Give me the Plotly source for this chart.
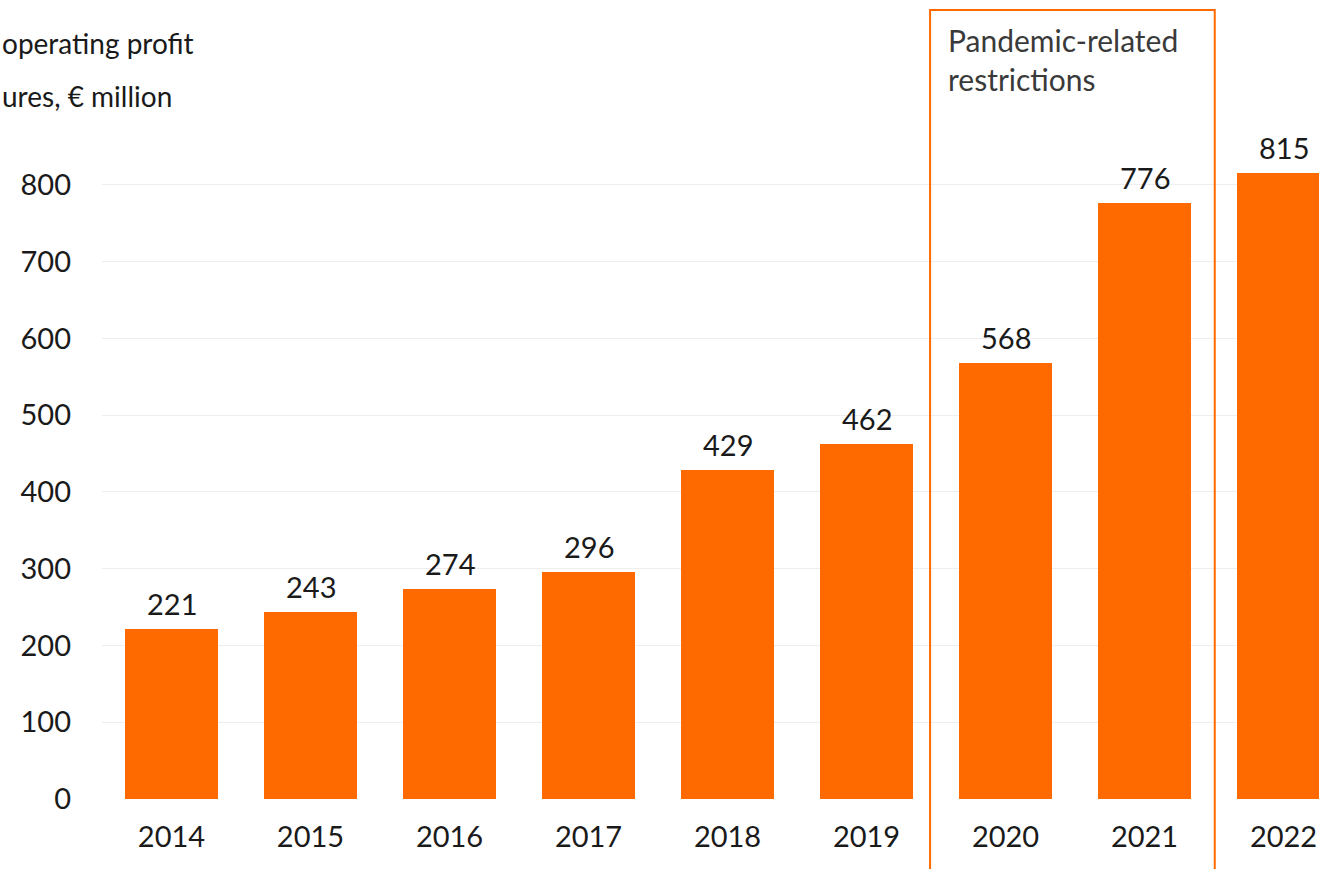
import plotly.graph_objects as go

years = ["2014", "2015", "2016", "2017", "2018", "2019", "2020", "2021", "2022"]
profit = [221, 243, 274, 296, 429, 462, 568, 776, 815]
y_ticks = [0, 100, 200, 300, 400, 500, 600, 700, 800]
title_lines = ["operating profit", "ures, € million"]
box_label = "Pandemic-related<br>restrictions"

ORANGE = "#FF6A00"
FONT = "Lato"
TEXT = "#1a1a1a"

fig = go.Figure()
fig.add_trace(go.Bar(
    x=years, y=profit, width=0.67,
    marker=dict(color=ORANGE, line=dict(width=0)),
    hoverinfo="skip",
))

# value labels above each bar (category positions by index)
for i, v in enumerate(profit):
    fig.add_annotation(
        x=i, y=v, text=str(v), showarrow=False,
        yanchor="bottom", yshift=6,
        font=dict(family=FONT, size=29, color=TEXT),
    )

# box marking the pandemic years
fig.add_shape(
    type="rect", xref="x", yref="paper",
    x0=5.457, x1=7.505, y0=-0.3, y1=0.9875,
    line=dict(color=ORANGE, width=2), fillcolor="rgba(0,0,0,0)",
    layer="above",
)
fig.add_annotation(
    xref="x", yref="paper", x=5.57, y=0.975,
    xanchor="left", yanchor="top", align="left",
    text=box_label, showarrow=False,
    font=dict(family=FONT, size=30, color="#3a3a3a"),
)

# chart heading lines
for i, line in enumerate(title_lines):
    fig.add_annotation(
        xref="paper", yref="paper", x=-102 / 1217, y=1 - (43 + 53 * i) / 799,
        xanchor="left", yanchor="middle", text=line, showarrow=False,
        font=dict(family=FONT, size=28, color=TEXT),
    )

fig.update_layout(
    width=1319, height=869,
    margin=dict(l=102, r=0, t=0, b=70),
    paper_bgcolor="white", plot_bgcolor="white",
    showlegend=False,
    bargap=0,
)
fig.update_xaxes(
    type="category", range=[-0.5, 8.255],
    showgrid=False, zeroline=False, showline=False, ticks="",
    ticklabelstandoff=18,
    tickfont=dict(family=FONT, size=29, color=TEXT),
)
fig.update_yaxes(
    range=[0, 1041], tickvals=y_ticks,
    showgrid=True, gridcolor="#eeeeee", gridwidth=1,
    zeroline=False, showline=False, ticks="",
    ticklabelstandoff=30,
    tickfont=dict(family=FONT, size=29, color=TEXT),
)

fig.write_html("out.html")
